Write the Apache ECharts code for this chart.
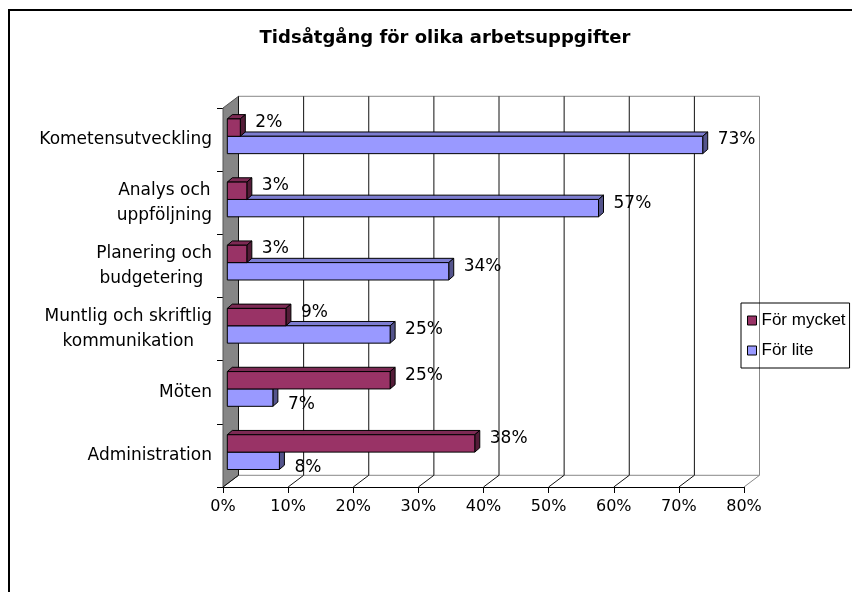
<!DOCTYPE html>
<html>
<head>
<meta charset="utf-8">
<script src="https://cdn.jsdelivr.net/npm/echarts@6/dist/echarts.min.js"></script>
<style>
  html, body { margin: 0; padding: 0; background: #fff; }
  #chart { width: 852px; height: 592px; }
</style>
</head>
<body>
<div id="chart"></div>
<script>
const categories = ['Kometensutveckling', 'Analys och\nuppföljning', 'Planering och\nbudgetering ', 'Muntlig och skriftlig\nkommunikation', 'Möten', 'Administration'];
const forMycket = [2, 3, 3, 9, 25, 38];
const forLite = [73, 57, 34, 25, 7, 8];
const xTicks = [0, 10, 20, 30, 40, 50, 60, 70, 80];

// 3d look: wall depth and bar placement inside it
const DX = 15.5, DY = 11.7;
const OX = 4.3, OY = 3.3;
const BX = 5, BY = 4.3;
const FONT = 'DejaVu Sans';

const chart = echarts.init(document.getElementById('chart'), null, { renderer: 'canvas' });

function shade(hex, k) {
  const n = parseInt(hex.slice(1), 16);
  const r = Math.round(((n >> 16) & 255) * k), g = Math.round(((n >> 8) & 255) * k), b = Math.round((n & 255) * k);
  return 'rgb(' + r + ',' + g + ',' + b + ')';
}

function frameRender(params, api) {
  const cs = params.coordSys;
  const x = api.coord([api.value(0), 0])[0];
  const top = cs.y, bottom = cs.y + cs.height;
  const right = cs.x + cs.width;
  const last = params.dataIndex === xTicks.length - 1;
  const children = [];
  if (params.dataIndex === 0) {
    children.push({
      type: 'polygon',
      shape: { points: [[x, top], [x + DX, top - DY], [x + DX, bottom - DY], [x, bottom]] },
      style: { fill: '#868686', stroke: '#555', lineWidth: 1 }
    });
    children.push({
      type: 'line',
      shape: { x1: x + DX, y1: top - DY, x2: right + DX, y2: top - DY },
      style: { stroke: '#888', lineWidth: 1 }
    });
    children.push({
      type: 'line',
      shape: { x1: x + DX, y1: bottom - DY, x2: right + DX, y2: bottom - DY },
      style: { stroke: '#888', lineWidth: 1 }
    });
  }
  children.push({
    type: 'line',
    shape: { x1: x + DX, y1: top - DY, x2: x + DX, y2: bottom - DY },
    style: { stroke: last ? '#888' : '#111', lineWidth: 1 }
  });
  children.push({
    type: 'line',
    shape: { x1: x, y1: bottom, x2: x + DX, y2: bottom - DY },
    style: { stroke: last ? '#888' : '#111', lineWidth: 1 }
  });
  return { type: 'group', children: children };
}

function barRender(upper, color) {
  return function (params, api) {
    const val = api.value(0);
    const cat = api.value(1);
    const base = api.coord([0, cat]);
    const end = api.coord([val, cat]);
    const band = api.size([0, 1])[1];
    const h = band * 0.275;
    const x1 = base[0] + OX, x2 = end[0] + OX;
    const y1 = (upper ? base[1] - h : base[1]) - OY;
    const y2 = y1 + h;
    const edge = { stroke: '#000', lineWidth: 1 };
    let ly = (y1 + y2) / 2 - 5;
    if (!upper && forMycket[cat] > forLite[cat]) ly = (y1 + y2) / 2 + 7;
    return {
      type: 'group',
      children: [
        {
          type: 'polygon',
          shape: { points: [[x1, y1], [x1 + BX, y1 - BY], [x2 + BX, y1 - BY], [x2, y1]] },
          style: Object.assign({ fill: shade(color, 0.82) }, edge)
        },
        {
          type: 'polygon',
          shape: { points: [[x2, y1], [x2 + BX, y1 - BY], [x2 + BX, y2 - BY], [x2, y2]] },
          style: Object.assign({ fill: shade(color, 0.55) }, edge)
        },
        {
          type: 'rect',
          shape: { x: x1, y: y1, width: x2 - x1, height: h },
          style: Object.assign({ fill: color }, edge)
        },
        {
          type: 'text',
          style: {
            text: val + '%', x: x2 + 15, y: ly,
            fill: '#000', font: '17px "' + FONT + '"',
            align: 'left', verticalAlign: 'middle'
          }
        }
      ]
    };
  };
}

const option = {
  backgroundColor: '#fff',
  animation: false,
  title: {
    text: 'Tidsåtgång för olika arbetsuppgifter',
    left: 440,
    top: 24,
    textAlign: 'center',
    textStyle: { fontFamily: FONT, fontWeight: 'bold', fontSize: 18, color: '#000' }
  },
  graphic: [{
    type: 'rect',
    shape: { x: 9, y: 10, width: 900, height: 700 },
    style: { fill: 'none', stroke: '#000', lineWidth: 2 },
    silent: true
  }],
  legend: {
    orient: 'vertical',
    left: 741,
    top: 303,
    padding: [9, 4, 9, 6],
    itemWidth: 9,
    itemHeight: 9,
    itemGap: 13,
    borderColor: '#000',
    borderWidth: 1,
    textStyle: { fontFamily: 'Liberation Sans', fontSize: 17, color: '#000' },
    data: [
      { name: 'För mycket', icon: 'rect', itemStyle: { color: '#993366', borderColor: '#000', borderWidth: 1 } },
      { name: 'För lite', icon: 'rect', itemStyle: { color: '#9999ff', borderColor: '#000', borderWidth: 1 } }
    ]
  },
  grid: { left: 223, right: 108, top: 108, bottom: 105 },
  xAxis: {
    type: 'value',
    min: 0,
    max: 80,
    interval: 10,
    splitLine: { show: false },
    axisLine: { show: true, lineStyle: { color: '#000', width: 1 } },
    axisTick: { show: true, length: 6, lineStyle: { color: '#000' } },
    axisLabel: { formatter: '{value}%', margin: 12, color: '#000', fontFamily: FONT, fontSize: 16 }
  },
  yAxis: {
    type: 'category',
    inverse: true,
    data: categories,
    axisLine: { show: true, lineStyle: { color: '#000', width: 1 } },
    axisTick: { show: true, length: 6, lineStyle: { color: '#000' } },
    splitLine: { show: false },
    axisLabel: {
      margin: 11,
      color: '#000',
      fontFamily: FONT,
      fontSize: 17,
      formatter: function (v) { return v.split('\n').map(function (s) { return '{c|' + s + '}'; }).join('\n'); },
      rich: { c: { align: 'center', fontFamily: FONT, fontSize: 17, lineHeight: 25, color: '#000' } }
    }
  },
  series: [
    {
      name: 'frame',
      type: 'custom',
      silent: true,
      z: 1,
      clip: false,
      renderItem: frameRender,
      encode: { x: 0, y: 1 },
      data: xTicks.map(function (v) { return [v, 0]; })
    },
    {
      name: 'För lite',
      type: 'custom',
      z: 2,
      clip: false,
      itemStyle: { color: '#9999ff' },
      renderItem: barRender(false, '#9999ff'),
      encode: { x: 0, y: 1 },
      data: forLite.map(function (v, i) { return [v, i]; })
    },
    {
      name: 'För mycket',
      type: 'custom',
      z: 2,
      clip: false,
      itemStyle: { color: '#993366' },
      renderItem: barRender(true, '#993366'),
      encode: { x: 0, y: 1 },
      data: forMycket.map(function (v, i) { return [v, i]; })
    }
  ]
};

chart.setOption(option);
</script>
</body>
</html>
